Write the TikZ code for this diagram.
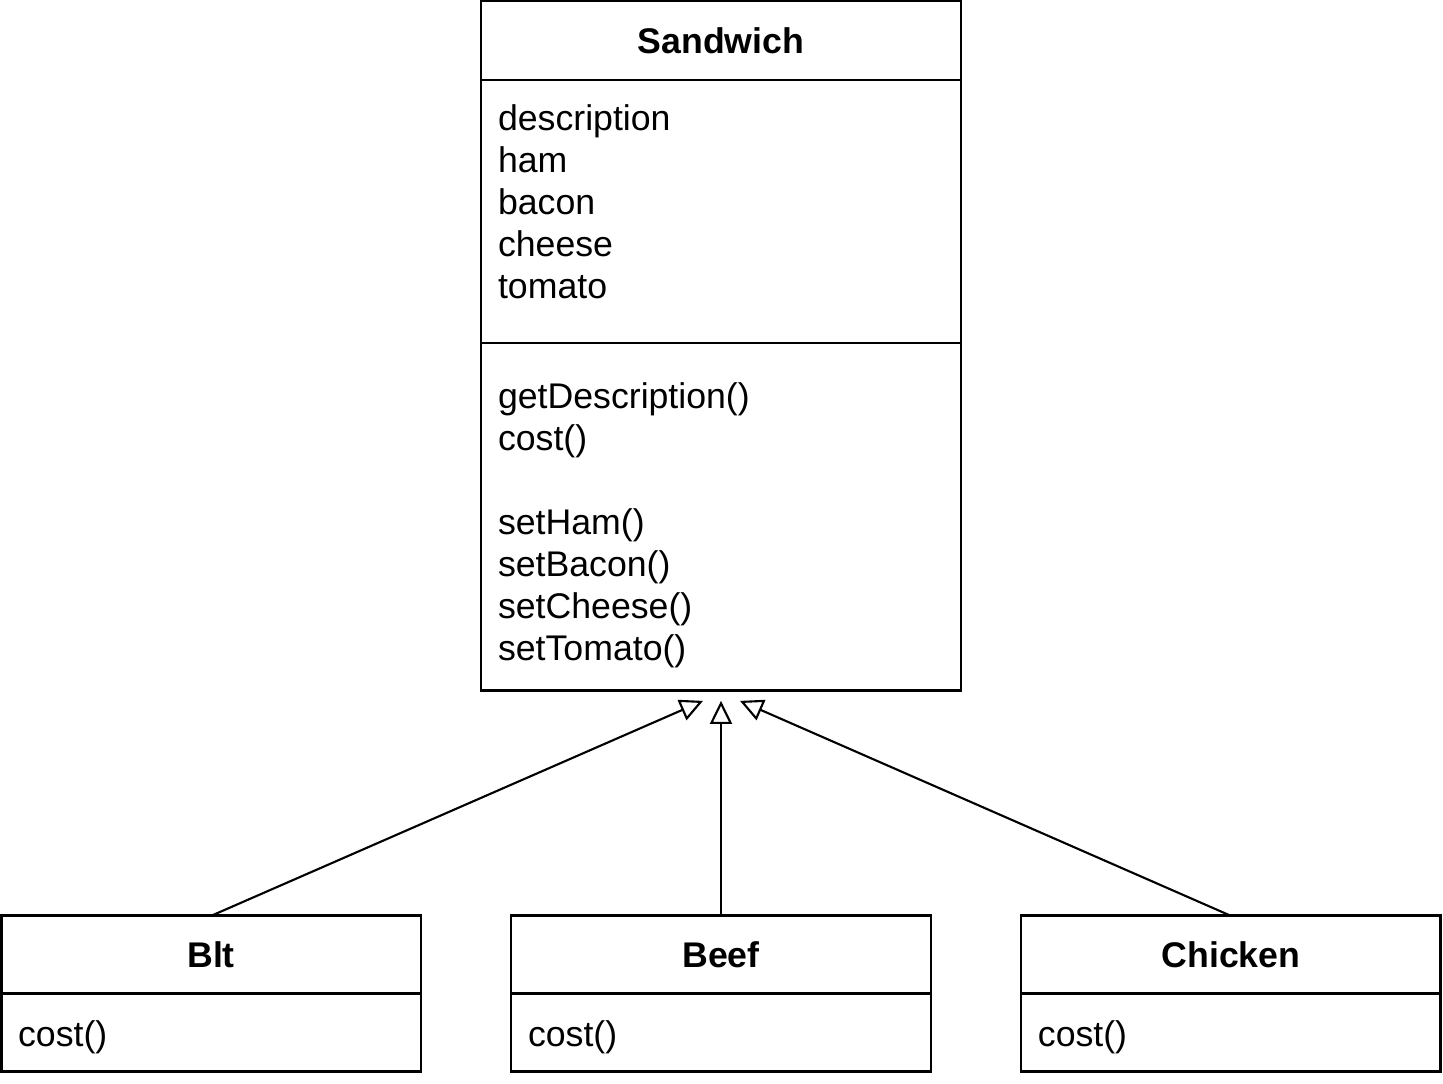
\documentclass[tikz,border=0pt]{standalone}
\usepackage{fontspec}
\setmainfont{Liberation Sans}
\usetikzlibrary{arrows.meta, positioning}

\newcommand{\umlfont}{\fontsize{20.3pt}{23.9pt}\selectfont}

\tikzset{
    classhead/.style={draw, line width=1.6pt, inner sep=0pt, outer sep=0pt, minimum height=1.56cm, font=\umlfont\bfseries},
    classpart/.style={draw, line width=1.6pt, inner sep=0pt, outer sep=0pt},
    members/.style={anchor=north west, align=left, inner sep=0pt, outer sep=0pt, font=\umlfont},
    inherit/.style={line width=1.2pt, -{Triangle[open, length=0.46cm, width=0.44cm]}}
}

\begin{document}
\begin{tikzpicture}[x=0.02cm, y=-0.02cm]
    \useasboundingbox (0,0) rectangle (1443,1083);

    % parent class
    \node[classhead, minimum width=9.6cm, minimum height=1.58cm] (sandwich) at (721,40.5) {Sandwich};
    \node[classpart, minimum width=9.6cm, minimum height=5.26cm, below=0pt of sandwich] (sandwichAttr) {};
    \node[classpart, minimum width=9.6cm, minimum height=6.96cm, below=0pt of sandwichAttr] (sandwichOps) {};
    \node[members] (sandwichAttrText) at ([xshift=0.34cm, yshift=-0.5cm]sandwichAttr.north west)
        {description\\ham\\bacon\\cheese\\tomato};
    \node[members] (sandwichOpsText) at ([xshift=0.34cm, yshift=-0.8cm]sandwichOps.north west)
        {getDescription()\\cost()\\[0.84cm]setHam()\\setBacon()\\setCheese()\\setTomato()};

    % subclasses
    \node[classhead, minimum width=8.4cm, below=4.5cm of sandwichOps] (beef) {Beef};
    \node[classhead, minimum width=8.4cm, left=1.8cm of beef] (blt) {Blt};
    \node[classhead, minimum width=8.4cm, right=1.8cm of beef] (chicken) {Chicken};
    \node[classpart, minimum width=8.4cm, minimum height=1.56cm, below=0pt of blt] (bltOps) {};
    \node[classpart, minimum width=8.4cm, minimum height=1.56cm, below=0pt of beef] (beefOps) {};
    \node[classpart, minimum width=8.4cm, minimum height=1.56cm, below=0pt of chicken] (chickenOps) {};
    \node[members] (bltCost) at ([xshift=0.34cm, yshift=-0.54cm]bltOps.north west) {cost()};
    \node[members] (beefCost) at ([xshift=0.34cm, yshift=-0.54cm]beefOps.north west) {cost()};
    \node[members] (chickenCost) at ([xshift=0.34cm, yshift=-0.54cm]chickenOps.north west) {cost()};

    % generalisation
    \coordinate (tipBlt) at ([xshift=-0.36cm, yshift=-0.2cm]sandwichOps.south);
    \coordinate (tipBeef) at ([yshift=-0.2cm]sandwichOps.south);
    \coordinate (tipChicken) at ([xshift=0.38cm, yshift=-0.2cm]sandwichOps.south);
    \draw[inherit] (blt.north) -- (tipBlt);
    \draw[inherit] (beef.north) -- (tipBeef);
    \draw[inherit] (chicken.north) -- (tipChicken);
\end{tikzpicture}
\end{document}
